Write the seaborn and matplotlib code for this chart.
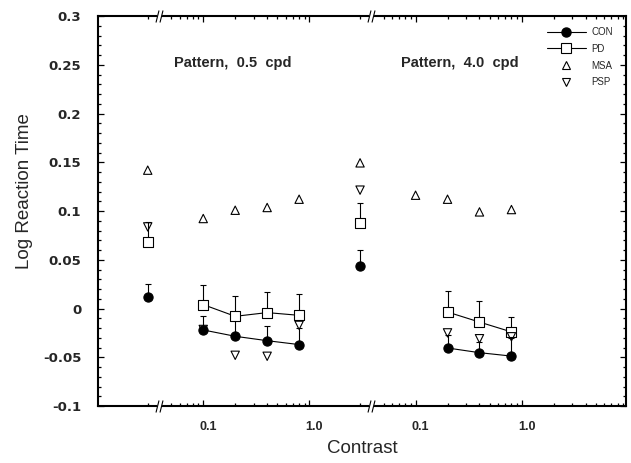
import numpy as np
import pandas as pd
import seaborn as sns
import matplotlib.pyplot as plt
from matplotlib.path import Path
from matplotlib.lines import Line2D
from matplotlib.transforms import blended_transform_factory, ScaledTranslation

# Datos (log tiempo de reaccion)
baseline_contrast = 0.03          # punto de referencia a la izquierda de cada corte
contrast_05 = [0.1, 0.2, 0.4, 0.8]
contrast_40 = [0.2, 0.4, 0.8]
contrast_40_msa = [0.1, 0.2, 0.4, 0.8]

# Pattern, 0.5 cpd
con_05 = [-0.022, -0.0285, -0.033, -0.037]
con_05_top = [-0.0077, -0.010, -0.018, -0.020]
pd_05 = [0.004, -0.008, -0.0042, -0.007]
pd_05_top = [0.0245, 0.0128, 0.017, 0.0153]
msa_05 = [0.0923, 0.1008, 0.1036, 0.1121]
psp_05 = [-0.0215, -0.048, -0.049, -0.0173]

# Pattern, 4.0 cpd
con_40 = [-0.0405, -0.0453, -0.0488]
con_40_top = [-0.027, -0.034, -0.030]
pd_40 = [-0.0036, -0.0139, -0.024]
pd_40_top = [0.0177, 0.0074, -0.0087]
msa_40 = [0.1162, 0.1121, 0.0991, 0.1015]
psp_40 = [-0.025, -0.031, -0.029]

# Puntos de referencia (baseline) de cada panel: CON, PD, MSA, PSP
base_05 = {"CON": 0.0118, "PD": 0.0683, "MSA": 0.1419, "PSP": 0.0837}
base_05_top = {"CON": 0.0256, "PD": 0.0888}
base_40 = {"CON": 0.0433, "PD": 0.0878, "MSA": 0.1494, "PSP": 0.1214}
base_40_top = {"CON": 0.0598, "PD": 0.1083}

groups = ["CON", "PD", "MSA", "PSP"]
panel_shift = {"0.5 cpd": 1, "4.0 cpd": 100}   # el segundo panel se desplaza dos decadas
break_contrast = 0.038

# Tabla larga
rows = []
def add(group, panel, xs, ys, tops=None, kind="curve"):
    for i, (x, y) in enumerate(zip(xs, ys)):
        rows.append({"group": group, "panel": panel, "kind": kind,
                     "x": x * panel_shift[panel], "y": y,
                     "top": tops[i] if tops is not None else np.nan})

add("CON", "0.5 cpd", contrast_05, con_05, con_05_top)
add("PD", "0.5 cpd", contrast_05, pd_05, pd_05_top)
add("MSA", "0.5 cpd", contrast_05, msa_05)
add("PSP", "0.5 cpd", contrast_05, psp_05)
add("CON", "4.0 cpd", contrast_40, con_40, con_40_top)
add("PD", "4.0 cpd", contrast_40, pd_40, pd_40_top)
add("MSA", "4.0 cpd", contrast_40_msa, msa_40)
add("PSP", "4.0 cpd", contrast_40, psp_40)
for panel, base, top in [("0.5 cpd", base_05, base_05_top), ("4.0 cpd", base_40, base_40_top)]:
    for g in groups:
        add(g, panel, [baseline_contrast], [base[g]],
            [top.get(g, np.nan)], kind="base")
df = pd.DataFrame(rows)

sns.set_style("white")
fig = plt.figure(figsize=(6.31, 4.63), dpi=100)
ax = fig.add_axes([0.1553, 0.1231, 0.8368, 0.8423])

marker_style = {
    "CON": dict(marker="o", s=44, facecolor="black", edgecolor="black", linewidth=0.8),
    "PD": dict(marker="s", s=44, facecolor="white", edgecolor="black", linewidth=0.8),
    "MSA": dict(marker="^", s=36, facecolor="none", edgecolor="black", linewidth=0.8),
    "PSP": dict(marker="v", s=36, facecolor="none", edgecolor="black", linewidth=0.8),
}

# lineas que unen CON y PD
curves = df[(df.kind == "curve") & df.group.isin(["CON", "PD"])]
sns.lineplot(data=curves, x="x", y="y", units=curves.group + curves.panel,
             estimator=None, color="black", lw=0.8, ax=ax, legend=False, zorder=2)

# barras de error (solo hacia arriba)
err = df.dropna(subset=["top"])
ax.errorbar(err.x, err.y, yerr=[np.zeros(len(err)), err.top - err.y], fmt="none",
            ecolor="black", elinewidth=0.8, capsize=2.2, capthick=0.8, zorder=1)

for g in groups:
    sub = df[df.group == g]
    sns.scatterplot(data=sub, x="x", y="y", ax=ax, legend=False, zorder=3, **marker_style[g])

ax.set_xscale("log")
ax.set_xlim(0.0102, 960)
ax.set_ylim(-0.1, 0.3)

major_x = [0.1, 1, 10, 100]
ax.set_xticks(major_x)
ax.set_xticklabels(["0.1", "1.0", "0.1", "1.0"])
minor_x = [baseline_contrast] + [m / 100 for m in range(5, 10)] + [m / 10 for m in range(2, 10)]
minor_x += [3] + list(range(5, 10)) + list(range(20, 100, 10)) + list(range(200, 1000, 100))
ax.set_xticks(minor_x, minor=True)
ax.xaxis.set_minor_formatter(plt.NullFormatter())

ax.set_yticks(np.arange(-0.1, 0.301, 0.05))
ax.set_yticklabels(["-0.1", "-0.05", "0", "0.05", "0.1", "0.15", "0.2", "0.25", "0.3"])
ax.set_yticks(np.arange(-0.1, 0.301, 0.01), minor=True)

ax.tick_params(which="both", direction="in", bottom=True, left=True, top=True, right=True,
               color="black", width=0.9)
ax.tick_params(which="major", length=4.5)
ax.tick_params(which="minor", length=2.2)
ax.tick_params(axis="y", pad=12)
ax.tick_params(axis="x", pad=11)
for lab in ax.get_yticklabels():
    lab.set_fontfamily("DejaVu Sans")
    lab.set_fontweight("bold")
    lab.set_fontsize(9.5)
for lab in ax.get_xticklabels():
    lab.set_fontfamily("Liberation Sans")
    lab.set_fontweight("bold")
    lab.set_fontsize(9)
    lab.set_transform(lab.get_transform() + ScaledTranslation(0.05, 0, fig.dpi_scale_trans))

for sp in ax.spines.values():
    sp.set_color("black")
    sp.set_linewidth(1.5)

ax.set_xlabel("Contrast", fontsize=13.5, family="Liberation Sans")
ax.set_ylabel("Log Reaction Time", fontsize=13.5, family="Liberation Sans")
ax.xaxis.set_label_coords(0.5, -0.088)
ax.yaxis.set_label_coords(-0.123, 0.551)

# textos de los paneles
ax.text(0.255, 0.88, "Pattern,  0.5  cpd", transform=ax.transAxes, ha="center", va="center",
        fontsize=10.5, fontweight="bold", family="Liberation Sans")
ax.text(0.686, 0.88, "Pattern,  4.0  cpd", transform=ax.transAxes, ha="center", va="center",
        fontsize=10.5, fontweight="bold", family="Liberation Sans")

# cortes del eje (//) arriba y abajo
trans = blended_transform_factory(ax.transData, ax.transAxes)
slash = Path([(-3.5, -6), (-0.5, 6), (0.5, -6), (3.5, 6)],
             [Path.MOVETO, Path.LINETO, Path.MOVETO, Path.LINETO])
gap = Path([(-2.6, -2.6), (1.4, -2.6), (2.6, 2.6), (-1.4, 2.6), (-2.6, -2.6)])
for xb in [break_contrast * s for s in panel_shift.values()]:
    for yb in (0, 1):
        ax.plot([xb], [yb], transform=trans, marker=gap, markersize=2 * 2.6 * 0.72,
                mfc="white", mec="white", mew=0.5, clip_on=False, zorder=5, ls="none")
        ax.plot([xb], [yb], transform=trans, marker=slash, markersize=12 * 0.72,
                mfc="none", mec="black", mew=0.8, clip_on=False, zorder=6, ls="none")

# leyenda
handles = [
    Line2D([], [], color="black", lw=0.8, marker="o", ms=6.5, mfc="black", mec="black"),
    Line2D([], [], color="black", lw=0.8, marker="s", ms=6.5, mfc="white", mec="black", mew=0.8),
    Line2D([], [], ls="none", marker="^", ms=5.5, mfc="none", mec="black", mew=0.8),
    Line2D([], [], ls="none", marker="v", ms=5.5, mfc="none", mec="black", mew=0.8),
]
leg = ax.legend(handles, groups, loc="upper left", bbox_to_anchor=(0.85, 0.972),
                frameon=False, fontsize=7, handlelength=4, handletextpad=0.6,
                labelspacing=0.7, borderpad=0, borderaxespad=0)
for t in leg.get_texts():
    t.set_family("Liberation Sans")

fig.savefig("out.png", dpi=100)
